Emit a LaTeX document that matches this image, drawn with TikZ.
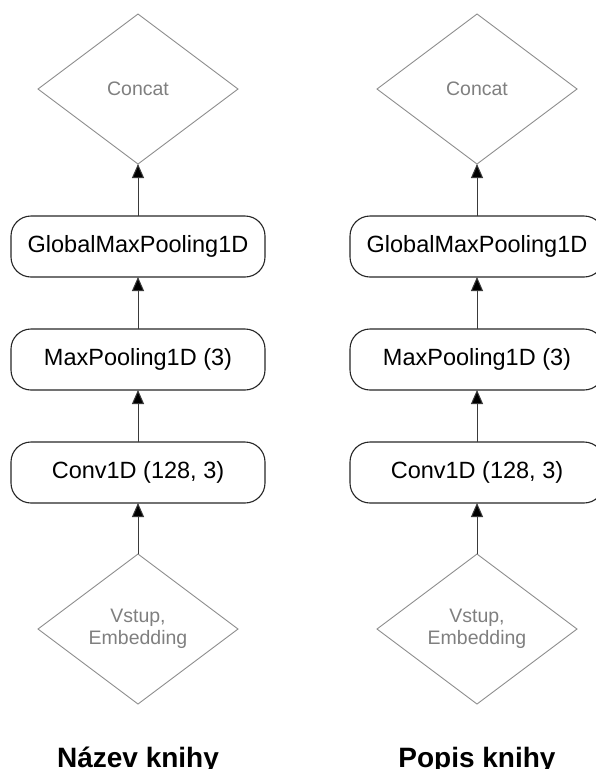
\documentclass[tikz,border=0pt]{standalone}
\usepackage{fontspec}
\setmainfont{Liberation Sans}
\usetikzlibrary{shapes.geometric,arrows.meta}
\definecolor{linegray}{HTML}{8C8C8C}
\definecolor{textgray}{HTML}{7F7F7F}
\definecolor{arrowgray}{HTML}{3A3A3A}
\tikzset{
  layerbox/.style={draw=black!85, line width=1.1pt, rectangle, rounded corners=20pt,
    minimum width=254pt, minimum height=61pt, inner sep=0pt, outer sep=0pt,
    font=\fontsize{23.5}{28}\selectfont},
  joint/.style={draw=linegray, line width=0.9pt, diamond, minimum width=200pt,
    minimum height=150pt, inner sep=0pt, outer sep=0pt, align=center,
    text=textgray, font=\fontsize{19.5}{22.5}\selectfont},
  flow/.style={draw=arrowgray, line width=1pt,
    -{Triangle[length=14pt,width=12pt,fill=black]}},
  caption/.style={anchor=base, font=\fontsize{28}{32}\selectfont\bfseries}
}
\begin{document}
\begin{tikzpicture}[x=1pt,y=-1pt]
\useasboundingbox (0,0) rectangle (596,769);

% left branch: book title
\node[joint]    (lcat)  at (138,89)    {Concat};
\node[layerbox] (lgmp)  at (138,246.5) {GlobalMaxPooling1D};
\node[layerbox] (lmp)   at (138,359.5) {MaxPooling1D (3)};
\node[layerbox] (lconv) at (138,472.5) {Conv1D (128, 3)};
\node[joint]    (lin)   at (138,629)   {Vstup,\\Embedding};
\node[caption]  (lcap)  at (138,767)   {Název knihy};

% right branch: book description
\node[joint]    (rcat)  at (477,89)    {Concat};
\node[layerbox] (rgmp)  at (477,246.5) {GlobalMaxPooling1D};
\node[layerbox] (rmp)   at (477,359.5) {MaxPooling1D (3)};
\node[layerbox] (rconv) at (477,472.5) {Conv1D (128, 3)};
\node[joint]    (rin)   at (477,629)   {Vstup,\\Embedding};
\node[caption]  (rcap)  at (477,767)   {Popis knihy};

\foreach \s in {l,r}{
  \draw[flow] (\s in.north)   -- (\s conv.south);
  \draw[flow] (\s conv.north) -- (\s mp.south);
  \draw[flow] (\s mp.north)   -- (\s gmp.south);
  \draw[flow] (\s gmp.north)  -- (\s cat.south);
}
\end{tikzpicture}
\end{document}
